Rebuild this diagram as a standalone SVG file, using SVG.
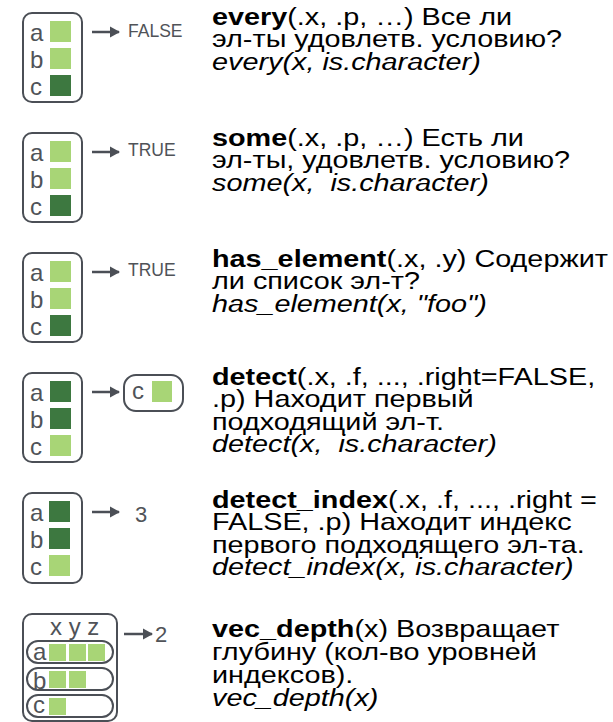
<svg xmlns="http://www.w3.org/2000/svg" width="613" height="722" viewBox="0 0 613 722">
<style>
.box{fill:#fff;stroke:#4b4f56;stroke-width:2}
.lt{fill:#a8d576}
.dk{fill:#3d7840}
.lbl{font-family:"Liberation Sans",Arial,sans-serif;font-size:24px;fill:#505358}
.out{font-family:"Liberation Sans",Arial,sans-serif;font-size:17.5px;fill:#505358}
.num{font-family:"Liberation Sans",Arial,sans-serif;font-size:22px;fill:#505358}
.desc{font-family:"Liberation Sans",Arial,sans-serif;font-size:24px;fill:#000}
.b{font-weight:bold}
.i{font-style:italic}
.arr{stroke:#4b4f56;stroke-width:2.5;fill:none;marker-end:url(#ah)}
</style>
<defs>
<marker id="ah" markerWidth="10" markerHeight="12" refX="9" refY="6" orient="auto" markerUnits="userSpaceOnUse">
<path d="M0,0.5 L10,6 L0,11.5 Z" fill="#4b4f56"/>
</marker>
</defs>

<g id="connectors">
<line class="arr" x1="92" y1="32" x2="119" y2="32"/>
<line class="arr" x1="92" y1="152" x2="119" y2="152"/>
<line class="arr" x1="92" y1="272" x2="119" y2="272"/>
<line class="arr" x1="92" y1="392" x2="119" y2="392"/>
<line class="arr" x1="92" y1="512" x2="119" y2="512"/>
<line class="arr" x1="124" y1="634" x2="152" y2="634"/>
</g>

<g id="every-input">
<rect class="box" x="23" y="13" width="59" height="89" rx="9"/>
<text class="lbl" x="30" y="41">a</text><text class="lbl" x="30" y="68">b</text><text class="lbl" x="30" y="95">c</text>
<rect class="lt" x="50" y="21" width="21" height="21"/><rect class="lt" x="50" y="48" width="21" height="21"/><rect class="dk" x="50" y="75" width="21" height="21"/>
</g>
<g id="every-output"><text class="out" x="128" y="37">FALSE</text></g>
<g id="every-desc" transform="translate(212,0) scale(1.2,1)">
<text class="desc"><tspan x="0" y="25"><tspan class="b">every</tspan>(.x, .p, …) Все ли</tspan><tspan x="0" y="47.5">эл-ты удовлетв. условию?</tspan><tspan class="i" x="0" y="70">every(x, is.character)</tspan></text>
</g>

<g id="some-input">
<rect class="box" x="23" y="133" width="59" height="89" rx="9"/>
<text class="lbl" x="30" y="161">a</text><text class="lbl" x="30" y="188">b</text><text class="lbl" x="30" y="215">c</text>
<rect class="lt" x="50" y="141" width="21" height="21"/><rect class="lt" x="50" y="168" width="21" height="21"/><rect class="dk" x="50" y="195" width="21" height="21"/>
</g>
<g id="some-output"><text class="out" x="128" y="156">TRUE</text></g>
<g id="some-desc" transform="translate(212,0) scale(1.2,1)">
<text class="desc"><tspan x="0" y="146"><tspan class="b">some</tspan>(.x, .p, …) Есть ли</tspan><tspan x="0" y="168.5">эл-ты, удовлетв. условию?</tspan><tspan class="i" x="0" y="191">some(x, &#160;is.character)</tspan></text>
</g>

<g id="has-element-input">
<rect class="box" x="23" y="253" width="59" height="89" rx="9"/>
<text class="lbl" x="30" y="281">a</text><text class="lbl" x="30" y="308">b</text><text class="lbl" x="30" y="335">c</text>
<rect class="lt" x="50" y="261" width="21" height="21"/><rect class="lt" x="50" y="288" width="21" height="21"/><rect class="dk" x="50" y="315" width="21" height="21"/>
</g>
<g id="has-element-output"><text class="out" x="128" y="276">TRUE</text></g>
<g id="has-element-desc" transform="translate(212,0) scale(1.2,1)">
<text class="desc"><tspan x="0" y="267"><tspan class="b">has_element</tspan>(.x, .y) Содержит</tspan><tspan x="0" y="289.5">ли список эл-т?</tspan><tspan class="i" x="0" y="312">has_element(x, "foo")</tspan></text>
</g>

<g id="detect-input">
<rect class="box" x="23" y="373" width="59" height="89" rx="9"/>
<text class="lbl" x="30" y="401">a</text><text class="lbl" x="30" y="428">b</text><text class="lbl" x="30" y="455">c</text>
<rect class="dk" x="50" y="381" width="21" height="21"/><rect class="dk" x="50" y="408" width="21" height="21"/><rect class="lt" x="50" y="435" width="21" height="21"/>
</g>
<g id="detect-output">
<rect class="box" x="124" y="375" width="59" height="36" rx="12"/>
<text class="lbl" x="132" y="399">c</text>
<rect class="lt" x="152" y="381" width="20" height="21"/>
</g>
<g id="detect-desc" transform="translate(212,0) scale(1.2,1)">
<text class="desc"><tspan x="0" y="385"><tspan class="b">detect</tspan>(.x, .f, ..., .right=FALSE,</tspan><tspan x="0" y="407.5">.p) Находит первый</tspan><tspan x="0" y="430">подходящий эл-т.</tspan><tspan class="i" x="0" y="452.5">detect(x, &#160;is.character)</tspan></text>
</g>

<g id="detect-index-input">
<rect class="box" x="23" y="493" width="59" height="90" rx="9"/>
<text class="lbl" x="30" y="521">a</text><text class="lbl" x="30" y="548">b</text><text class="lbl" x="30" y="575">c</text>
<rect class="dk" x="49" y="501" width="21" height="21"/><rect class="dk" x="49" y="528" width="21" height="21"/><rect class="lt" x="49" y="555" width="21" height="21"/>
</g>
<g id="detect-index-output"><text class="num" x="135" y="522">3</text></g>
<g id="detect-index-desc" transform="translate(212,0) scale(1.2,1)">
<text class="desc"><tspan x="0" y="508"><tspan class="b">detect_index</tspan>(.x, .f, ..., .right =</tspan><tspan x="0" y="530.5">FALSE, .p) Находит индекс</tspan><tspan x="0" y="553">первого подходящего эл-та.</tspan><tspan class="i" x="0" y="575.5">detect_index(x, is.character)</tspan></text>
</g>

<g id="vec-depth-input">
<rect class="box" x="23" y="614" width="94" height="107" rx="9"/>
<text class="lbl" x="50" y="635">x y z</text>
<rect class="box" x="27" y="641" width="86" height="22" rx="11"/>
<rect class="box" x="27" y="668" width="86" height="22" rx="11"/>
<rect class="box" x="27" y="695" width="86" height="22" rx="11"/>
<text class="lbl" x="33" y="660">a</text><text class="lbl" x="33" y="689">b</text><text class="lbl" x="33" y="713">c</text>
<rect class="lt" x="49" y="644" width="17" height="17"/><rect class="lt" x="69" y="644" width="17" height="17"/><rect class="lt" x="88" y="644" width="17" height="17"/>
<rect class="lt" x="49" y="671" width="17" height="17"/><rect class="lt" x="69" y="671" width="17" height="17"/>
<rect class="lt" x="49" y="698" width="17" height="17"/>
</g>
<g id="vec-depth-output"><text class="num" x="155" y="642">2</text></g>
<g id="vec-depth-desc" transform="translate(212,0) scale(1.2,1)">
<text class="desc"><tspan x="0" y="637"><tspan class="b">vec_depth</tspan>(x) Возвращает</tspan><tspan x="0" y="660">глубину (кол-во уровней</tspan><tspan x="0" y="683">индексов).</tspan><tspan class="i" x="0" y="706">vec_depth(x)</tspan></text>
</g>
</svg>
